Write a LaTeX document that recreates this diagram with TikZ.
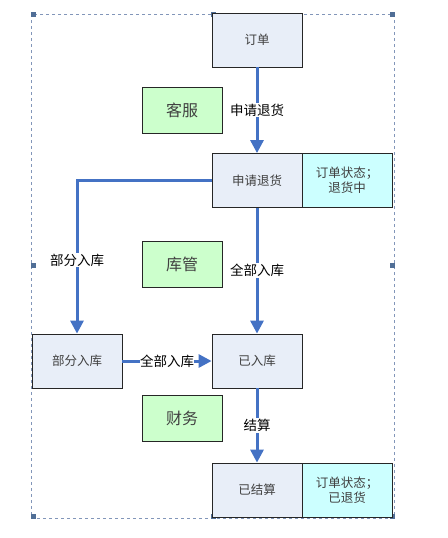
\documentclass[tikz,border=0pt]{standalone}
\usepackage{fontspec}
\newfontfamily\cjk{Noto Sans CJK SC}
\usepackage{tikz}
\usetikzlibrary{arrows.meta}
\definecolor{FlowBlue}{RGB}{68,114,196}
\definecolor{BoxFill}{RGB}{232,238,248}
\definecolor{RoleGreen}{RGB}{204,255,204}
\definecolor{StateCyan}{RGB}{204,255,255}
\definecolor{FrameBlue}{RGB}{130,150,185}
\definecolor{HandleBlue}{RGB}{80,110,150}
\tikzset{%
  stepbox/.style={draw=black!85, fill=BoxFill, line width=0.8pt,
    minimum width=90pt, minimum height=54pt, inner sep=0pt,
    font=\cjk\fontsize{12.5}{15}\selectfont, text=black!75},
  statebox/.style={stepbox, fill=StateCyan, align=center},
  rolebox/.style={draw=black!85, fill=RoleGreen, line width=0.8pt,
    minimum width=80pt, minimum height=46pt, inner sep=0pt,
    font=\cjk\fontsize{16}{19}\selectfont, text=black!75},
  flow/.style={draw=FlowBlue, line width=3pt,
    -{Triangle[length=13pt,width=13pt]}},
  flowlabel/.style={fill=white, inner sep=1pt, text=black,
    font=\cjk\fontsize{13.5}{16}\selectfont},
  handle/.style={fill=HandleBlue, minimum size=5pt, inner sep=0pt}
}

\begin{document}
\begin{tikzpicture}[x=1pt,y=-1pt]
  \useasboundingbox (0,0) rectangle (447,538);
  % selection frame
  \draw[FrameBlue, dashed, line width=0.6pt] (31,14) rectangle (394,518);
  \foreach \x/\y in {33/14, 213/14, 392/14, 33/265, 392/265, 33/516, 213/516, 392/516} {
    \node[handle] at (\x,\y) {};
  }
  % steps
  \node[stepbox] (order) at (257,40) {订单};
  \node[stepbox] (apply) at (257,180.5) {申请退货};
  \node[statebox] (applystate) at (347,180.5) {订单状态；\\退货中};
  \node[stepbox] (partial) at (77,361) {部分入库};
  \node[stepbox] (stored) at (257,361) {已入库};
  \node[stepbox] (settled) at (257,490) {已结算};
  \node[statebox] (settledstate) at (347,490) {订单状态；\\已退货};
  % roles
  \node[rolebox] (service) at (182,110) {客服};
  \node[rolebox] (keeper) at (182,264) {库管};
  \node[rolebox] (finance) at (182,418) {财务};
  % flows
  \draw[flow] (order) -- node[flowlabel]{申请退货} (apply);
  \draw[flow] (apply.west) -| node[flowlabel, pos=0.76]{部分入库} (partial.north);
  \draw[flow] (apply) -- node[flowlabel]{全部入库} (stored);
  \draw[flow] (partial) -- node[flowlabel, inner sep=0pt]{全部入库} (stored);
  \draw[flow] (stored) -- node[flowlabel]{结算} (settled);
\end{tikzpicture}
\end{document}
